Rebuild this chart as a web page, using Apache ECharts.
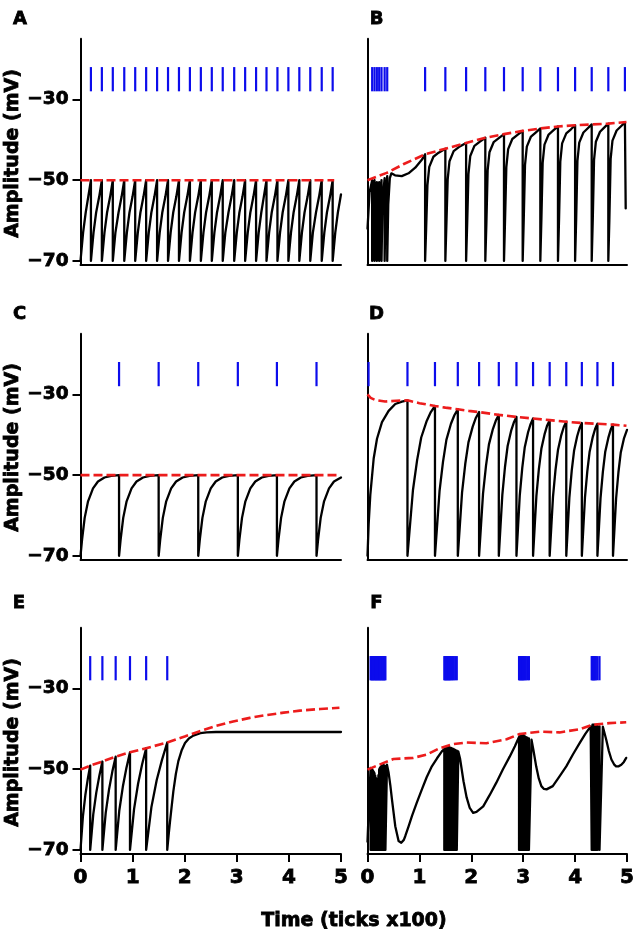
<!DOCTYPE html>
<html><head><meta charset="utf-8">
<script src="https://cdn.jsdelivr.net/npm/echarts@6/dist/echarts.min.js"></script>
<style>html,body{margin:0;padding:0;background:#fff}#c{width:638px;height:934px}</style>
</head><body><div id="c"></div>
<script>
// ---------- data ----------
const timeTicks = [0, 1, 2, 3, 4, 5];
const ampTicks = [-70, -50, -30];
const panelLabels = ['A', 'B', 'C', 'D', 'E', 'F'];
const xTitle = 'Time (ticks x100)';
const yTitle = 'Amplitude (mV)';

// spike rasters (time, x100 ticks)
const spikesA = [0.20,0.41,0.62,0.84,1.05,1.26,1.47,1.68,1.89,2.10,2.31,2.52,2.73,2.95,3.16,3.37,3.57,3.78,3.99,4.20,4.41,4.63,4.84];
const spikesB = [0.09,0.135,0.18,0.225,0.27,0.33,0.38,1.11,1.50,1.90,2.27,2.63,2.99,3.33,3.67,4.00,4.32,4.64,4.96];
const spikesC = [0.74,1.50,2.26,3.02,3.77,4.53];
const spikesD = [0.02,0.77,1.30,1.74,2.15,2.53,2.87,3.19,3.51,3.83,4.13,4.43,4.73];
const spikesE = [0.186,0.42,0.675,0.95,1.26,1.665];
const spikesF = [0.06,0.075,0.09,0.105,0.12,0.135,0.15,0.165,0.18,0.195,0.21,0.225,0.24,0.255,0.27,0.285,0.30,0.315,0.33,0.345,
  1.48,1.495,1.51,1.525,1.54,1.555,1.57,1.585,1.60,1.62,1.64,1.66,1.69,1.72,
  2.92,2.935,2.95,2.965,2.98,2.995,3.01,3.03,3.05,3.08,3.11,
  4.32,4.335,4.35,4.365,4.38,4.40,4.43,4.47];

// thresholds (red dashed), flat [t, mV, ...]
const threshA = [0,-50, 4.87,-50];
const threshB = [0,-50, 0.37,-48.2, 0.7,-46.0, 1.11,-43.6, 1.5,-42.2, 1.9,-40.8, 2.27,-39.5, 2.63,-38.6, 2.99,-37.8, 3.33,-37.2, 3.67,-36.7, 4.0,-36.4, 4.32,-36.2, 4.64,-36.0, 4.99,-35.6];
const threshC = [0,-50, 4.92,-50];
const threshD = [0,-30, 0.06,-30.9, 0.15,-31.4, 0.34,-31.8, 0.55,-31.6, 0.77,-31.5, 1.0,-32.2, 1.30,-32.9, 1.5,-33.3, 1.74,-33.7, 1.95,-34.1, 2.15,-34.4, 2.53,-35.1, 2.87,-35.6, 3.19,-36.0, 3.51,-36.4, 3.83,-36.8, 4.13,-37.1, 4.43,-37.3, 4.73,-37.5, 4.99,-37.8];
const threshE = [0,-50.1, 0.19,-49.1, 0.42,-48.1, 0.675,-46.9, 0.95,-45.8, 1.26,-44.8, 1.665,-43.4, 2.0,-41.9, 2.29,-40.6, 2.6,-39.3, 2.93,-38.2, 3.25,-37.3, 3.57,-36.6, 3.9,-36.0, 4.21,-35.5, 4.6,-35.1, 4.97,-34.8];
const threshF = [0,-50.1, 0.30,-48.5, 0.5,-47.5, 0.88,-47.2, 1.14,-46.4, 1.39,-44.8, 1.65,-43.8, 1.91,-43.4, 2.29,-43.6, 2.68,-42.6, 2.93,-41.3, 3.32,-40.7, 3.70,-40.9, 4.09,-40.1, 4.34,-39.0, 4.66,-38.6, 4.985,-38.4];

// membrane traces (black), flat [t, mV, ...]
const traceA = [0,-70, 0.05,-63, 0.10,-58, 0.15,-54, 0.20,-50,
 0.20,-70, 0.25,-63, 0.30,-58, 0.36,-54, 0.41,-50,
 0.41,-70, 0.46,-63, 0.51,-58, 0.57,-54, 0.62,-50,
 0.62,-70, 0.67,-63, 0.73,-58, 0.79,-54, 0.84,-50,
 0.84,-70, 0.89,-63, 0.94,-58, 1.00,-54, 1.05,-50,
 1.05,-70, 1.10,-63, 1.15,-58, 1.21,-54, 1.26,-50,
 1.26,-70, 1.31,-63, 1.36,-58, 1.42,-54, 1.47,-50,
 1.47,-70, 1.52,-63, 1.57,-58, 1.63,-54, 1.68,-50,
 1.68,-70, 1.73,-63, 1.78,-58, 1.84,-54, 1.89,-50,
 1.89,-70, 1.94,-63, 1.99,-58, 2.05,-54, 2.10,-50,
 2.10,-70, 2.15,-63, 2.20,-58, 2.26,-54, 2.31,-50,
 2.31,-70, 2.36,-63, 2.41,-58, 2.47,-54, 2.52,-50,
 2.52,-70, 2.57,-63, 2.62,-58, 2.68,-54, 2.73,-50,
 2.73,-70, 2.78,-63, 2.84,-58, 2.90,-54, 2.95,-50,
 2.95,-70, 3.00,-63, 3.05,-58, 3.11,-54, 3.16,-50,
 3.16,-70, 3.21,-63, 3.26,-58, 3.32,-54, 3.37,-50,
 3.37,-70, 3.42,-63, 3.47,-58, 3.52,-54, 3.57,-50,
 3.57,-70, 3.62,-63, 3.67,-58, 3.73,-54, 3.78,-50,
 3.78,-70, 3.83,-63, 3.88,-58, 3.94,-54, 3.99,-50,
 3.99,-70, 4.04,-63, 4.09,-58, 4.15,-54, 4.20,-50,
 4.20,-70, 4.25,-63, 4.30,-58, 4.36,-54, 4.41,-50,
 4.41,-70, 4.46,-63, 4.52,-58, 4.58,-54, 4.63,-50,
 4.63,-70, 4.68,-63, 4.73,-58, 4.79,-54, 4.84,-50,
 4.84,-70, 4.89,-63, 4.94,-58, 5.00,-53.5];
const traceB = [0,-62, 0.04,-53, 0.09,-50, 0.09,-70, 0.11,-56, 0.135,-50, 0.135,-70, 0.155,-56, 0.18,-50.5, 0.18,-70, 0.20,-56, 0.225,-50.5, 0.225,-70, 0.245,-56, 0.27,-50, 0.27,-70, 0.29,-55, 0.33,-49.5, 0.33,-70, 0.35,-55, 0.38,-49, 0.38,-70, 0.40,-56, 0.43,-49.5, 0.46,-48.3, 0.53,-48.8, 0.66,-49.0, 0.79,-48.3, 0.92,-46.9, 1.05,-44.9, 1.11,-43.6,
 1.11,-70, 1.13,-62, 1.155,-51.2, 1.19,-46.7, 1.27,-44.2, 1.37,-43.2, 1.50,-42.2,
 1.50,-70, 1.52,-61, 1.545,-49.8, 1.58,-45.3, 1.66,-42.8, 1.76,-41.8, 1.90,-40.8,
 1.90,-70, 1.92,-61, 1.945,-48.5, 1.98,-44.0, 2.06,-41.5, 2.16,-40.5, 2.27,-39.5,
 2.27,-70, 2.29,-61, 2.315,-47.6, 2.35,-43.1, 2.43,-40.6, 2.53,-39.6, 2.63,-38.6,
 2.63,-70, 2.65,-60, 2.675,-46.8, 2.71,-42.3, 2.79,-39.8, 2.89,-38.8, 2.99,-37.8,
 2.99,-70, 3.01,-60, 3.035,-46.2, 3.07,-41.7, 3.15,-39.2, 3.24,-38.2, 3.33,-37.2,
 3.33,-70, 3.35,-60, 3.375,-45.7, 3.41,-41.2, 3.49,-38.7, 3.58,-37.7, 3.67,-36.7,
 3.67,-70, 3.69,-60, 3.715,-45.4, 3.75,-40.9, 3.83,-38.4, 3.92,-37.4, 4.00,-36.4,
 4.00,-70, 4.02,-60, 4.045,-45.2, 4.08,-40.7, 4.16,-38.2, 4.24,-37.2, 4.32,-36.2,
 4.32,-70, 4.34,-60, 4.365,-45.0, 4.40,-40.5, 4.48,-38.0, 4.56,-37.0, 4.64,-36.0,
 4.64,-70, 4.66,-60, 4.685,-44.7, 4.72,-40.2, 4.80,-37.7, 4.88,-36.7, 4.96,-35.7,
 4.975,-57];
const traceC = [0,-70, 0.03,-66, 0.08,-60.6, 0.145,-56.5, 0.24,-53.3, 0.335,-51.6, 0.46,-50.6, 0.59,-50.2, 0.74,-50,
 0.74,-70, 0.77,-66, 0.82,-60.6, 0.885,-56.5, 0.98,-53.3, 1.075,-51.6, 1.20,-50.6, 1.33,-50.2, 1.50,-50,
 1.50,-70, 1.53,-66, 1.58,-60.6, 1.645,-56.5, 1.74,-53.3, 1.835,-51.6, 1.96,-50.6, 2.09,-50.2, 2.26,-50,
 2.26,-70, 2.29,-66, 2.34,-60.6, 2.405,-56.5, 2.50,-53.3, 2.595,-51.6, 2.72,-50.6, 2.85,-50.2, 3.02,-50,
 3.02,-70, 3.05,-66, 3.10,-60.6, 3.165,-56.5, 3.26,-53.3, 3.355,-51.6, 3.48,-50.6, 3.61,-50.2, 3.77,-50,
 3.77,-70, 3.80,-66, 3.85,-60.6, 3.915,-56.5, 4.01,-53.3, 4.105,-51.6, 4.23,-50.6, 4.36,-50.2, 4.53,-50,
 4.53,-70, 4.56,-66, 4.61,-60.6, 4.675,-56.5, 4.77,-53.3, 4.865,-51.6, 5.00,-50.6];
const traceD = [0,-70, 0.022,-62.2, 0.054,-54.9, 0.119,-45.9, 0.183,-41.0, 0.279,-36.9, 0.407,-34.1, 0.535,-32.4, 0.663,-31.8, 0.77,-31.5,
 0.77,-70, 0.823,-61.8, 0.876,-53.7, 0.956,-46.3, 1.035,-40.7, 1.141,-36.6, 1.22,-34.4, 1.30,-32.9,
 1.30,-70, 1.344,-62.0, 1.388,-54.0, 1.454,-46.8, 1.52,-41.3, 1.608,-37.3, 1.674,-35.2, 1.74,-33.7,
 1.74,-70, 1.781,-62.2, 1.822,-54.3, 1.884,-47.2, 1.945,-41.9, 2.027,-38.0, 2.089,-35.8, 2.15,-34.4,
 2.15,-70, 2.188,-62.3, 2.226,-54.6, 2.283,-47.7, 2.34,-42.4, 2.416,-38.6, 2.473,-36.5, 2.53,-35.1,
 2.53,-70, 2.564,-62.4, 2.598,-54.9, 2.649,-48.0, 2.70,-42.8, 2.768,-39.0, 2.819,-37.0, 2.87,-35.6,
 2.87,-70, 2.902,-62.5, 2.934,-55.0, 2.982,-48.2, 3.03,-43.1, 3.094,-39.4, 3.142,-37.4, 3.19,-36.0,
 3.19,-70, 3.222,-62.6, 3.254,-55.2, 3.302,-48.5, 3.35,-43.5, 3.414,-39.8, 3.462,-37.7, 3.51,-36.4,
 3.51,-70, 3.542,-62.7, 3.574,-55.4, 3.622,-48.8, 3.67,-43.8, 3.734,-40.1, 3.782,-38.1, 3.83,-36.8,
 3.83,-70, 3.86,-62.8, 3.89,-55.5, 3.935,-48.9, 3.98,-44.0, 4.04,-40.4, 4.085,-38.4, 4.13,-37.1,
 4.13,-70, 4.16,-62.8, 4.19,-55.6, 4.235,-49.1, 4.28,-44.2, 4.34,-40.6, 4.385,-38.6, 4.43,-37.3,
 4.43,-70, 4.46,-62.9, 4.49,-55.7, 4.535,-49.2, 4.58,-44.3, 4.64,-40.8, 4.685,-38.8, 4.73,-37.5,
 4.73,-70, 4.76,-62.9, 4.79,-55.8, 4.835,-49.3, 4.88,-44.4, 4.94,-41.0, 5.0,-38.8];
const traceE = [0,-70, 0.047,-61.6, 0.093,-56.4, 0.14,-52.4, 0.186,-49.1,
 0.186,-70, 0.245,-61.2, 0.303,-55.8, 0.362,-51.6, 0.42,-48.1,
 0.42,-70, 0.484,-60.8, 0.548,-55.0, 0.611,-50.6, 0.675,-46.9,
 0.675,-70, 0.744,-60.3, 0.813,-54.3, 0.881,-49.7, 0.95,-45.8,
 0.95,-70, 1.028,-59.9, 1.105,-53.6, 1.183,-48.8, 1.26,-44.8,
 1.26,-70, 1.361,-59.4, 1.463,-52.7, 1.564,-47.7, 1.665,-43.4,
 1.665,-70, 1.69,-66.5, 1.718,-63.0, 1.75,-59.2, 1.782,-55.5, 1.83,-51.2, 1.878,-48.0, 1.94,-45.4, 2.006,-43.5, 2.08,-42.4, 2.165,-41.7, 2.3,-41.1, 2.42,-40.9, 2.6,-40.8, 5.0,-40.8];
const traceF = [0,-68, 0.03,-58,
 0.06,-49.7, 0.06,-70, 0.075,-49.8, 0.075,-70, 0.09,-50.0, 0.09,-70, 0.105,-50.3, 0.105,-70, 0.12,-50.6, 0.12,-70, 0.135,-51.0, 0.135,-70, 0.15,-51.6, 0.15,-70, 0.165,-52.2, 0.165,-70, 0.18,-52.8, 0.18,-70, 0.195,-53.0, 0.195,-70, 0.21,-51.5, 0.21,-70, 0.225,-50.0, 0.225,-70, 0.24,-49.6, 0.24,-70, 0.255,-49.4, 0.255,-70, 0.27,-49.2, 0.27,-70, 0.285,-49.2, 0.285,-70, 0.30,-49.0, 0.30,-70, 0.315,-49.0, 0.315,-70, 0.33,-49.1, 0.33,-70, 0.345,-49.2, 0.345,-70,
 0.375,-48.9, 0.407,-50.9, 0.44,-54.0, 0.471,-57.5, 0.535,-64.1, 0.599,-67.8, 0.65,-68.2, 0.70,-67.5, 0.727,-66.6, 0.79,-64.2, 0.856,-61.6, 0.95,-58.3, 1.048,-55.0, 1.14,-52.0, 1.24,-49.3, 1.34,-47.3, 1.433,-45.6,
 1.48,-45.0, 1.48,-70, 1.495,-44.8, 1.495,-70, 1.51,-44.7, 1.51,-70, 1.525,-44.6, 1.525,-70, 1.54,-44.5, 1.54,-70, 1.555,-44.5, 1.555,-70, 1.57,-44.5, 1.57,-70, 1.585,-44.6, 1.585,-70, 1.60,-44.7, 1.60,-70, 1.62,-44.8, 1.62,-70, 1.64,-45.0, 1.64,-70, 1.66,-45.0, 1.66,-70, 1.69,-45.2, 1.69,-70, 1.72,-45.4, 1.72,-70,
 1.75,-45.6, 1.785,-47.5, 1.85,-53.0, 1.91,-57.0, 1.97,-59.6, 2.035,-60.8, 2.1,-60.6, 2.23,-59.2, 2.35,-56.5, 2.48,-53.4, 2.61,-50.0, 2.74,-46.9, 2.84,-44.3, 2.9,-42.6,
 2.92,-42.0, 2.92,-70, 2.935,-41.8, 2.935,-70, 2.95,-41.6, 2.95,-70, 2.965,-41.5, 2.965,-70, 2.98,-41.5, 2.98,-70, 2.995,-41.5, 2.995,-70, 3.01,-41.6, 3.01,-70, 3.03,-41.8, 3.03,-70, 3.05,-42.0, 3.05,-70, 3.08,-42.2, 3.08,-70, 3.11,-42.4, 3.11,-70,
 3.16,-42.7, 3.2,-45.5, 3.25,-49.3, 3.30,-52.3, 3.35,-54.2, 3.40,-54.9, 3.45,-55.0, 3.57,-54.2, 3.70,-51.8, 3.83,-49.3, 3.96,-46.3, 4.09,-43.5, 4.2,-41.2, 4.30,-39.4,
 4.32,-39.0, 4.32,-70, 4.335,-39.0, 4.335,-70, 4.35,-39.0, 4.35,-70, 4.365,-39.0, 4.365,-70, 4.38,-39.1, 4.38,-70, 4.40,-39.2, 4.40,-70, 4.43,-39.3, 4.43,-70, 4.47,-39.4, 4.47,-70,
 4.535,-39.5, 4.6,-42.7, 4.65,-45.5, 4.70,-47.6, 4.75,-48.8, 4.79,-49.3, 4.84,-49.3, 4.89,-48.9, 4.94,-48.2, 4.985,-47.2];

// ---------- build chart ----------
const traces = [traceA, traceB, traceC, traceD, traceE, traceF];
const thresholds = [threshA, threshB, threshC, threshD, threshE, threshF];
const rasters = [spikesA, spikesB, spikesC, spikesD, spikesE, spikesF];

function pairs(flat) { const out = []; for (let i = 0; i < flat.length; i += 2) out.push([flat[i], flat[i + 1]]); return out; }

const FONT = '"DejaVu Sans", "Liberation Sans", sans-serif';
const BLACK = '#000000', RED = '#ec1c1c', BLUE = '#0c0cec';
const Y_MIN = -71, Y_MAX = -15;
const RASTER_TOP = -22, RASTER_BOTTOM = -28;
const cols = [{ left: 80.5, width: 260.5 }, { left: 367.5, width: 259.5 }];
const rows = [{ top: 38.8, height: 226.2 }, { top: 333.7, height: 226.2 }, { top: 627.8, height: 226.2 }];
const minus = v => (v < 0 ? '\u2212' : '') + Math.abs(v);
const TEXT_STROKE = 0.8;

const grid = [], xAxis = [], yAxis = [], series = [];
for (let i = 0; i < 6; i++) {
  const r = Math.floor(i / 2), c = i % 2;
  const bottomRow = r === 2, leftCol = c === 0;
  grid.push({ left: cols[c].left, width: cols[c].width, top: rows[r].top, height: rows[r].height, containLabel: false, outerBoundsMode: 'none' });
  xAxis.push({
    type: 'value', gridIndex: i, min: 0, max: 5, interval: 1,
    axisLine: { show: true, onZero: false, lineStyle: { color: BLACK, width: 2 } },
    axisTick: { show: bottomRow, length: 8, lineStyle: { color: BLACK, width: 2 } },
    axisLabel: { show: bottomRow, margin: 14, color: BLACK, fontSize: 20, fontWeight: 'bold', fontFamily: FONT,
      textBorderColor: BLACK, textBorderWidth: TEXT_STROKE,
      formatter: v => timeTicks.includes(v) ? String(v) : '' },
    splitLine: { show: false }
  });
  yAxis.push({
    type: 'value', gridIndex: i, min: Y_MIN, max: Y_MAX,
    axisLine: { show: true, onZero: false, lineStyle: { color: BLACK, width: 2 } },
    axisTick: { show: leftCol, length: 8, customValues: ampTicks, lineStyle: { color: BLACK, width: 2 } },
    axisLabel: { show: leftCol, customValues: ampTicks, margin: 12, color: BLACK, fontSize: 18.5, fontWeight: 'bold', fontFamily: FONT,
      textBorderColor: BLACK, textBorderWidth: TEXT_STROKE, formatter: minus },
    splitLine: { show: false }
  });
  series.push({
    type: 'line', xAxisIndex: i, yAxisIndex: i, data: pairs(traces[i]),
    symbol: 'none', showSymbol: false, silent: true, z: 2,
    lineStyle: { color: BLACK, width: 2.3, join: 'round', cap: 'round' }
  });
  series.push({
    type: 'line', xAxisIndex: i, yAxisIndex: i, data: pairs(thresholds[i]),
    symbol: 'none', showSymbol: false, silent: true, z: 3,
    lineStyle: { color: RED, width: 2.6, type: [9, 4] }
  });
  series.push({
    type: 'custom', xAxisIndex: i, yAxisIndex: i, silent: true, z: 4,
    data: rasters[i].map(t => [t]), encode: { x: 0 },
    renderItem: (params, api) => {
      const t = api.value(0);
      const a = api.coord([t, RASTER_TOP]);
      const b = api.coord([t, RASTER_BOTTOM]);
      return { type: 'line', shape: { x1: a[0], y1: a[1], x2: b[0], y2: b[1] }, style: { stroke: BLUE, lineWidth: 2.2 } };
    }
  });
}

const letterPos = [[20, 19.5], [376.5, 19.5], [19.5, 314.5], [376.5, 314.5], [19, 603], [376.5, 603]];
const graphic = [];
const textStyle = (text, size) => ({ text, font: 'bold ' + size + 'px ' + FONT, fill: BLACK, stroke: BLACK, lineWidth: TEXT_STROKE,
  textAlign: 'center', align: 'center', textVerticalAlign: 'middle', verticalAlign: 'middle' });
panelLabels.forEach((L, i) => {
  graphic.push({ type: 'text', x: letterPos[i][0], y: letterPos[i][1], silent: true, style: textStyle(L, 18) });
});
[153.5, 447.5, 742.5].forEach(cy => {
  graphic.push({ type: 'text', x: 13.5, y: cy, rotation: Math.PI / 2, silent: true, style: textStyle(yTitle, 19) });
});
graphic.push({ type: 'text', x: 354, y: 921, silent: true, style: textStyle(xTitle, 19) });

const chart = echarts.init(document.getElementById('c'), null, { renderer: 'canvas' });
chart.setOption({
  animation: false, backgroundColor: '#ffffff',
  grid, xAxis, yAxis, series, graphic
});
</script></body></html>
